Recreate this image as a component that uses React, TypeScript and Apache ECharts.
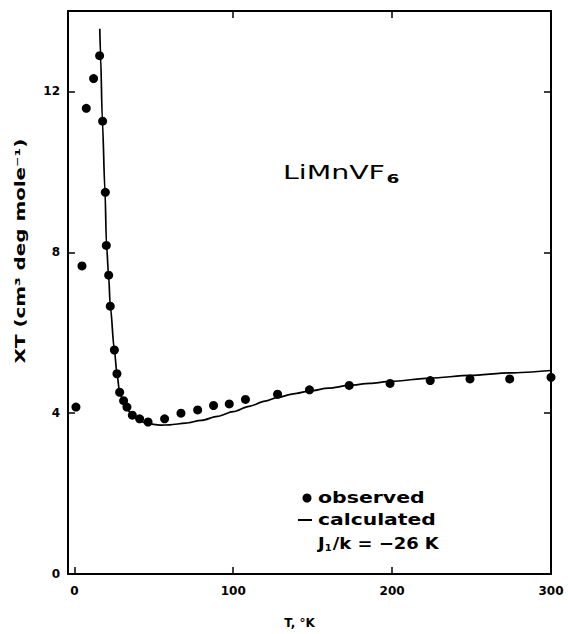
import React, { useEffect, useRef } from "react";
import * as echarts from "echarts";

const observedT = [1, 4.8, 7.5, 12.1, 15.9, 17.8, 19.5, 20.1, 21.6, 22.6, 25.2, 26.8, 28.5, 31, 33.1, 36.5, 41.1, 46.4, 56.8, 67.1, 77.6, 87.6, 97.5, 107.7, 127.9, 148, 173, 198.7, 224, 249, 274, 300];
const observedXT = [4.15, 7.66, 11.58, 12.32, 12.89, 11.26, 9.49, 8.17, 7.43, 6.66, 5.57, 4.98, 4.52, 4.31, 4.15, 3.95, 3.86, 3.78, 3.86, 4.0, 4.08, 4.19, 4.23, 4.34, 4.47, 4.58, 4.69, 4.74, 4.81, 4.85, 4.85, 4.89];

const calcT = [16.0, 16.5, 17.6, 19.3, 20.2, 21.6, 22.6, 25.2, 26.8, 28.5, 31, 33, 36.5, 41, 46, 54, 60, 70, 80, 90, 100, 110, 120, 128, 138, 148, 160, 173, 186, 199, 224, 249, 274, 300];
const calcXT = [13.56, 12.9, 11.3, 9.5, 8.2, 7.4, 6.66, 5.57, 4.98, 4.52, 4.28, 4.12, 3.93, 3.81, 3.74, 3.70, 3.71, 3.75, 3.82, 3.92, 4.04, 4.17, 4.30, 4.39, 4.48, 4.55, 4.62, 4.69, 4.74, 4.79, 4.87, 4.94, 5.0, 5.06];

const xTicks = [0, 100, 200, 300];
const yTicks = [0, 4, 8, 12];

const FONT = "DejaVu Sans";
const INK = "#000";

export default function App() {
  const ref = useRef<HTMLDivElement>(null);
  useEffect(() => {
    if (!ref.current) return;
    const chart = echarts.init(ref.current, undefined, { renderer: "svg" });
    const labelStyle = { color: INK, fontFamily: FONT, fontWeight: "bold" as const, fontSize: 12 };
    const axisLine = { show: true, onZero: false, lineStyle: { color: INK, width: 2 } };
    const tick = (vals: number[]) => ({ show: true, inside: true, length: 7, lineStyle: { color: INK, width: 1.5 }, customValues: vals });
    const txt = (text: string, x: number, y: number, size: number, sx: number) => ({
      type: "text", x, y, scaleX: sx,
      style: { text, fontFamily: FONT, fontWeight: "bold", fontSize: size, fill: INK, align: "left", verticalAlign: "middle" },
    });
    chart.setOption({
      animation: false,
      backgroundColor: "#fff",
      grid: { left: 68, right: 17, top: 11, bottom: 54, containLabel: false },
      xAxis: [
        {
          type: "value", min: -4, max: 300, position: "bottom",
          axisLine, axisTick: tick(xTicks), splitLine: { show: false },
          axisLabel: { ...labelStyle, margin: 11, customValues: xTicks },
          name: "T, °K", nameLocation: "middle", nameGap: 43,
          nameTextStyle: { ...labelStyle, fontSize: 12, padding: [0, 20, 0, 0] },
        },
        {
          type: "value", min: -4, max: 300, position: "top",
          axisLine, axisTick: tick([100, 200]), splitLine: { show: false },
          axisLabel: { show: false },
        },
      ],
      yAxis: [
        {
          type: "value", min: 0, max: 14, position: "left",
          axisLine, axisTick: tick([4, 8, 12]), splitLine: { show: false },
          axisLabel: { ...labelStyle, margin: 8, customValues: yTicks },
        },
        {
          type: "value", min: 0, max: 14, position: "right",
          axisLine, axisTick: tick([4, 8, 12]), splitLine: { show: false },
          axisLabel: { show: false },
        },
      ],
      graphic: [
        { type: "circle", shape: { cx: 307, cy: 498, r: 4.5 }, style: { fill: INK } },
        { type: "line", shape: { x1: 298, y1: 520, x2: 312, y2: 520 }, style: { stroke: INK, lineWidth: 2 } },
        txt("observed", 318, 497, 16, 1.28),
        txt("calculated", 318, 519, 16, 1.27),
        {
          type: "text", x: 318, y: 543, scaleX: 1.12,
          style: {
            text: "{a|J}{s|1}{a|/k = −26 K}", verticalAlign: "middle",
            rich: {
              a: { fontFamily: FONT, fontWeight: "bold", fontSize: 16, fill: INK },
              s: { fontFamily: FONT, fontWeight: "bold", fontSize: 9, fill: INK, padding: [10, 1, 0, 0] },
            },
          },
        },
        {
          type: "text", x: 283, y: 172, scaleX: 1.42,
          style: {
            text: "{a|LiMnVF}{s|6}", verticalAlign: "middle",
            rich: {
              a: { fontFamily: FONT, fontSize: 20, fill: INK },
              s: { fontFamily: FONT, fontWeight: "bold", fontSize: 13, fill: INK, padding: [14, 0, 0, 1] },
            },
          },
        },
        {
          type: "text", x: 20, y: 251, rotation: Math.PI / 2, scaleX: 1.42,
          style: {
            text: "XT (cm³ deg mole⁻¹)", align: "center", verticalAlign: "middle",
            fontFamily: FONT, fontWeight: "bold", fontSize: 14, fill: INK,
          },
        },
      ],
      series: [
        {
          name: "observed", type: "scatter", symbol: "circle", symbolSize: 9,
          itemStyle: { color: INK, opacity: 1 },
          data: observedT.map((t, i) => [t, observedXT[i]]),
          z: 3,
        },
        {
          name: "calculated", type: "line", symbol: "none", smooth: 0.3, smoothMonotone: "x",
          lineStyle: { color: INK, width: 1.7 },
          data: calcT.map((t, i) => [t, calcXT[i]]),
        },
      ],
    });
    return () => chart.dispose();
  }, []);
  return <div ref={ref} style={{ position: "fixed", left: 0, top: 0, width: 568, height: 634 }} />;
}
